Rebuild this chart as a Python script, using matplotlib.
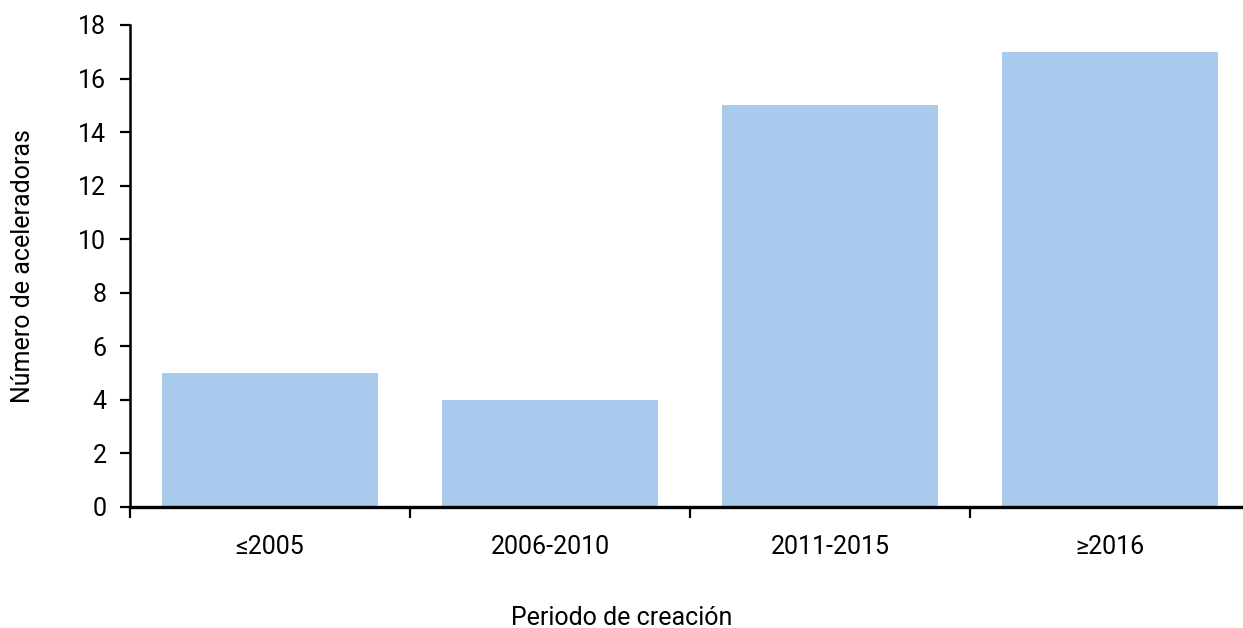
import numpy as np
import matplotlib.pyplot as plt

plt.rcParams['font.family'] = ['Roboto', 'DejaVu Sans']

periods = ["≤2005", "2006-2010", "2011-2015", "≥2016"]
counts = [5, 4, 15, 17]
bar_color = "#a8caec"

fig = plt.figure(figsize=(12.43, 6.28), dpi=100)
ax = fig.add_axes([130 / 1243, 1 - 507 / 628, 1 - 130 / 1243, (507 - 25) / 628])

x = np.arange(len(periods))
ax.bar(x, counts, width=0.77, color=bar_color, zorder=2)

ax.set_xlim(-0.5, -0.5 + 1113 / 280)
ax.set_ylim(0, 18)
ax.set_yticks(np.arange(0, 19, 2))
ax.tick_params(axis='y', labelsize=18, length=7, width=1.6, pad=10)

# category boundary ticks, labels centred between them
ax.set_xticks(np.arange(len(periods)) - 0.5)
ax.set_xticklabels([])
ax.set_xticks(x, minor=True)
ax.set_xticklabels(periods, minor=True)
ax.tick_params(axis='x', which='major', length=8, width=1.6, direction='out')
ax.tick_params(axis='x', which='minor', length=0, labelsize=18, pad=20)

for s in ["top", "right"]:
    ax.spines[s].set_visible(False)
ax.spines["left"].set_linewidth(1.8)
ax.spines["bottom"].set_linewidth(2.4)

ax.set_ylabel("Número de aceleradoras", fontsize=18, labelpad=31)
ax.set_xlabel("Periodo de creación", fontsize=18, labelpad=34)
# x label is centred on the figure, not on the axes
ax.xaxis.label.set_x((1243 / 2 - 130) / 1113)

fig.savefig("out.png", dpi=100)
